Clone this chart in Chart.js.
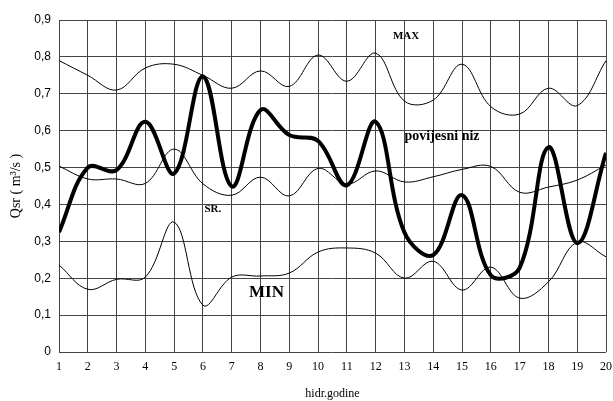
<!DOCTYPE html>
<html>
<head>
<meta charset="utf-8">
<script src="https://cdn.jsdelivr.net/npm/chart.js@4/dist/chart.umd.min.js"></script>
<style>
html,body{margin:0;padding:0;background:#fff;}
#wrap{position:relative;width:613px;height:401px;}
</style>
</head>
<body>
<div id="wrap"><canvas id="c" width="613" height="401"></canvas></div>
<script>
const years = [1,2,3,4,5,6,7,8,9,10,11,12,13,14,15,16,17,18,19,20];
const maxValues = [0.79,0.75,0.71,0.77,0.78,0.75,0.715,0.762,0.72,0.805,0.734,0.81,0.68,0.683,0.78,0.665,0.645,0.715,0.668,0.79];
const histValues = [0.325,0.50,0.493,0.624,0.484,0.747,0.449,0.656,0.588,0.572,0.452,0.624,0.324,0.263,0.425,0.208,0.228,0.555,0.295,0.54];
const avgValues = [0.504,0.469,0.469,0.457,0.55,0.456,0.425,0.474,0.423,0.498,0.455,0.491,0.461,0.475,0.495,0.503,0.433,0.447,0.466,0.507];
const minValues = [0.236,0.17,0.197,0.203,0.352,0.127,0.203,0.206,0.214,0.271,0.282,0.268,0.2,0.246,0.168,0.23,0.146,0.19,0.298,0.258];
const yTicks = [0,0.1,0.2,0.3,0.4,0.5,0.6,0.7,0.8,0.9];
const seriesLabels = ['MAX','povijesni niz','SR.','MIN'];

function pts(vals){ return years.map((x,i)=>({x:x,y:vals[i]})); }

// text labels placed in data coordinates
const notes = [
  {text:'MAX', x:12.6, y:0.857, size:11},
  {text:'povijesni niz', x:13.0, y:0.584, size:14},
  {text:'SR.', x:6.05, y:0.387, size:11},
  {text:'MIN', x:7.6, y:0.16, size:17}
];

const notePlugin = {
  id:'notes',
  afterDatasetsDraw(chart){
    const {ctx, scales:{x,y}} = chart;
    ctx.save();
    ctx.fillStyle = '#000';
    ctx.textBaseline = 'middle';
    ctx.textAlign = 'left';
    notes.forEach(n=>{
      ctx.font = 'bold ' + n.size + 'px "Liberation Serif", "Times New Roman", serif';
      ctx.fillText(n.text, x.getPixelForValue(n.x), y.getPixelForValue(n.y));
    });
    ctx.restore();
  }
};

const ds = (label, vals, w) => ({
  label: label,
  data: pts(vals),
  borderColor: '#000',
  borderWidth: w,
  pointRadius: 0,
  fill: false,
  tension: 0.38
});

new Chart(document.getElementById('c'), {
  type: 'line',
  data: {
    datasets: [
      ds(seriesLabels[0], maxValues, 1),
      ds(seriesLabels[1], histValues, 4),
      ds(seriesLabels[2], avgValues, 1),
      ds(seriesLabels[3], minValues, 1)
    ]
  },
  options: {
    responsive: false,
    animation: false,
    events: [],
    layout: { padding: { top: 20, right: 7, left: 0, bottom: 0 } },
    plugins: { legend: { display: false }, tooltip: { enabled: false } },
    scales: {
      x: {
        type: 'linear',
        min: 1, max: 20,
        afterBuildTicks(s){ s.ticks = years.map(v=>({value:v})); },
        afterFit(s){ s.height = 49; s.paddingRight = 0; s.paddingLeft = 0; },
        grid: { color: '#444', lineWidth: 1, drawTicks: false },
        border: { display: false },
        ticks: {
          color: '#000',
          padding: 8,
          maxRotation: 0,
          autoSkip: false,
          font: { family: '"Liberation Serif", "Times New Roman", serif', size: 12 }
        },
        title: {
          display: true,
          text: 'hidr.godine',
          color: '#000',
          padding: { top: 6, bottom: 0 },
          font: { family: '"Liberation Serif", "Times New Roman", serif', size: 12 }
        }
      },
      y: {
        type: 'linear',
        min: 0, max: 0.9,
        afterBuildTicks(s){ s.ticks = yTicks.map(v=>({value:v})); },
        afterFit(s){ s.width = 59; s.paddingTop = 0; s.paddingBottom = 0; },
        grid: { color: '#444', lineWidth: 1, drawTicks: false },
        border: { display: false },
        ticks: {
          color: '#000',
          padding: 8,
          callback: v => v === 0 ? '0' : v.toFixed(1).replace('.', ','),
          font: { family: '"Liberation Sans", Arial, sans-serif', size: 12 }
        },
        title: {
          display: true,
          text: 'Qsr ( m³/s )',
          color: '#000',
          padding: { top: 8, bottom: 0 },
          font: { family: '"Liberation Serif", "Times New Roman", serif', size: 14 }
        }
      }
    }
  },
  plugins: [notePlugin]
});
</script>
</body>
</html>
